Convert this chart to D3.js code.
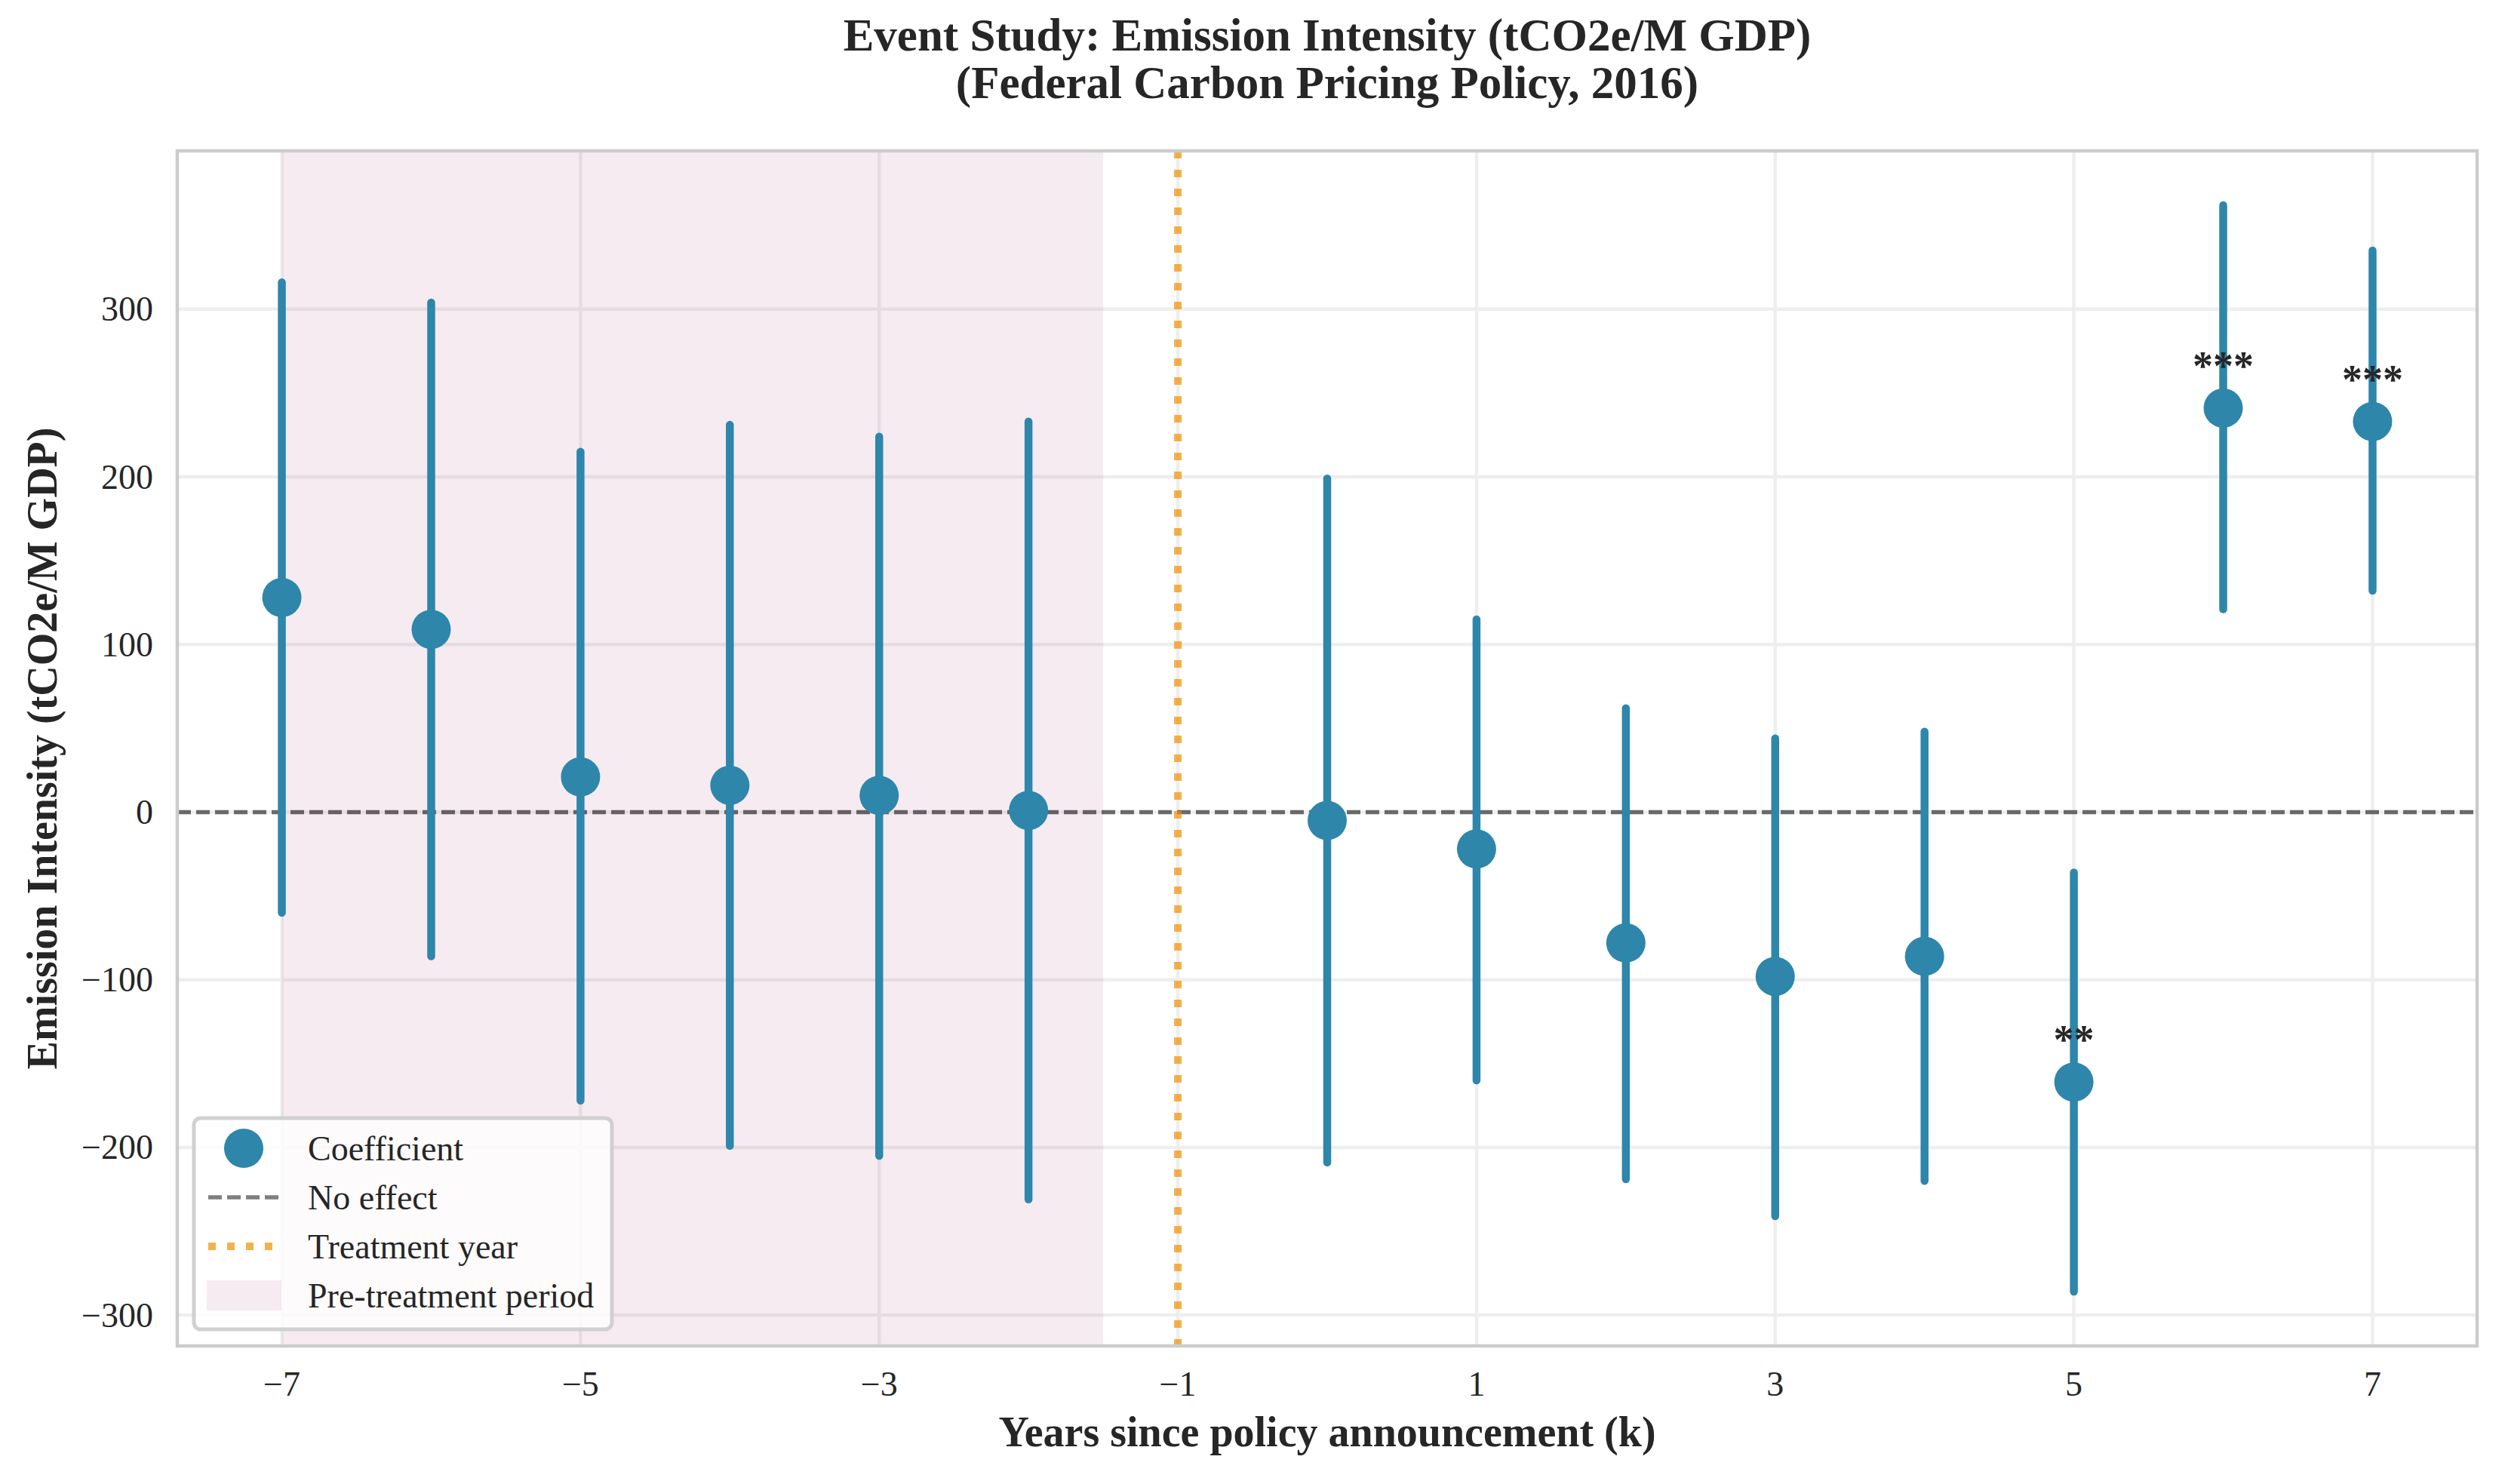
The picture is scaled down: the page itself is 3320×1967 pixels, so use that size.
<!DOCTYPE html>
<html>
<head>
<meta charset="utf-8">
<script src="https://cdn.jsdelivr.net/npm/d3@7"></script>
<style>
  html, body { margin: 0; padding: 0; background: #ffffff; }
  svg { display: block; }
  text { font-family: "Liberation Serif", "Times New Roman", serif; fill: #262626; }
</style>
</head>
<body>
<svg id="chart" width="3320" height="1967"></svg>
<script>
// ---- Data ----
const years     = [-7, -6, -5, -4, -3, -2, 0, 1, 2, 3, 4, 5, 6, 7];
const coef      = [128, 109, 21, 16, 10, 1, -5, -22, -78, -98, -86, -161, 241, 233];
const ciLower   = [-60, -86, -172, -199, -205, -231, -209, -160, -219, -241, -220, -286, 121, 132];
const ciUpper   = [316, 304, 215, 231, 224, 233, 199, 115, 62, 44, 48, -36, 362, 335];
const stars     = ["", "", "", "", "", "", "", "", "", "", "", "**", "***", "***"];
const xTicks    = [-7, -5, -3, -1, 1, 3, 5, 7];
const yTicks    = [-300, -200, -100, 0, 100, 200, 300];
const treatmentYear = -1;
const preStart = -7, preEnd = -1.5;
const titleLines = ["Event Study: Emission Intensity (tCO2e/M GDP)", "(Federal Carbon Pricing Policy, 2016)"];
const xLabel = "Years since policy announcement (k)";
const yLabel = "Emission Intensity (tCO2e/M GDP)";
const legendItems = ["Coefficient", "No effect", "Treatment year", "Pre-treatment period"];

// ---- Layout ----
const W = 3320, H = 1967;
const P = { left: 235, right: 3283, top: 200, bottom: 1784 };
const blue = "#2E86AB", orange = "#F18F01", purple = "#A23B72";

const svg = d3.select("#chart");

const xExt = d3.extent(years), xPad = (xExt[1] - xExt[0]) * 0.05;
const yMin = d3.min(ciLower), yMax = d3.max(ciUpper), yPad = (yMax - yMin) * 0.05;
const x = d3.scaleLinear().domain([xExt[0] - xPad, xExt[1] + xPad]).range([P.left, P.right]);
const y = d3.scaleLinear().domain([yMin - yPad, yMax + yPad]).range([P.bottom, P.top]);

const fmt = d => (d < 0 ? "\u2212" + Math.abs(d) : String(d));

svg.append("rect").attr("width", W).attr("height", H).attr("fill", "#ffffff");

// grid
const grid = svg.append("g");
grid.selectAll("line.gx").data(xTicks).join("line")
  .attr("x1", d => x(d)).attr("x2", d => x(d))
  .attr("y1", P.top).attr("y2", P.bottom)
  .attr("stroke", "#eeeeee").attr("stroke-width", 4.5);
grid.selectAll("line.gy").data(yTicks).join("line")
  .attr("x1", P.left).attr("x2", P.right)
  .attr("y1", d => y(d)).attr("y2", d => y(d))
  .attr("stroke", "#eeeeee").attr("stroke-width", 4.5);

// pre-treatment shading
svg.append("rect")
  .attr("x", x(preStart)).attr("width", x(preEnd) - x(preStart))
  .attr("y", P.top).attr("height", P.bottom - P.top)
  .attr("fill", purple).attr("fill-opacity", 0.1);

// zero line
svg.append("line")
  .attr("x1", P.left).attr("x2", P.right)
  .attr("y1", y(0)).attr("y2", y(0))
  .attr("stroke", "#000000").attr("stroke-opacity", 0.56)
  .attr("stroke-width", 5.5).attr("stroke-dasharray", "18 7");

// treatment line
svg.append("line")
  .attr("x1", x(treatmentYear)).attr("x2", x(treatmentYear))
  .attr("y1", P.top).attr("y2", P.bottom)
  .attr("stroke", orange).attr("stroke-opacity", 0.7)
  .attr("stroke-width", 10).attr("stroke-dasharray", "10 15");

// error bars
const pts = years.map((k, i) => ({ k, c: coef[i], lo: ciLower[i], hi: ciUpper[i], s: stars[i] }));
svg.append("g").selectAll("line").data(pts).join("line")
  .attr("x1", d => x(d.k)).attr("x2", d => x(d.k))
  .attr("y1", d => y(d.lo)).attr("y2", d => y(d.hi))
  .attr("stroke", blue).attr("stroke-width", 10.5).attr("stroke-linecap", "round");

// markers
svg.append("g").selectAll("circle").data(pts).join("circle")
  .attr("cx", d => x(d.k)).attr("cy", d => y(d.c)).attr("r", 26)
  .attr("fill", blue);

// significance stars
svg.append("g").selectAll("text").data(pts.filter(d => d.s)).join("text")
  .attr("x", d => x(d.k)).attr("y", d => y(d.c) - 38)
  .attr("text-anchor", "middle").attr("font-size", 54).attr("font-weight", "bold")
  .text(d => d.s);

// frame
svg.append("rect")
  .attr("x", P.left).attr("y", P.top)
  .attr("width", P.right - P.left).attr("height", P.bottom - P.top)
  .attr("fill", "none").attr("stroke", "#cccccc").attr("stroke-width", 4.5);

// tick labels
svg.append("g").selectAll("text").data(xTicks).join("text")
  .attr("x", d => x(d)).attr("y", 1850)
  .attr("text-anchor", "middle").attr("font-size", 46)
  .text(fmt);
svg.append("g").selectAll("text").data(yTicks).join("text")
  .attr("x", 203).attr("y", d => y(d))
  .attr("text-anchor", "end").attr("dominant-baseline", "central").attr("font-size", 46)
  .text(fmt);

// axis labels
svg.append("text")
  .attr("x", (P.left + P.right) / 2).attr("y", 1917)
  .attr("text-anchor", "middle").attr("font-size", 56).attr("font-weight", "bold")
  .text(xLabel);
svg.append("text")
  .attr("transform", `translate(75, ${(P.top + P.bottom) / 2}) rotate(-90)`)
  .attr("text-anchor", "middle").attr("font-size", 56).attr("font-weight", "bold")
  .text(yLabel);

// title
svg.append("g").selectAll("text").data(titleLines).join("text")
  .attr("x", (P.left + P.right) / 2).attr("y", (d, i) => 67 + i * 63)
  .attr("text-anchor", "middle").attr("font-size", 61).attr("font-weight", "bold")
  .text(d => d);

// legend
const lg = svg.append("g");
lg.append("rect")
  .attr("x", 257).attr("y", 1482).attr("width", 554).attr("height", 280)
  .attr("rx", 9).attr("ry", 9)
  .attr("fill", "#ffffff").attr("fill-opacity", 0.8)
  .attr("stroke", "#d0d0d0").attr("stroke-width", 5);
const rowY = i => 1522 + i * 65;
const hx0 = 276, hx1 = 370;
lg.append("circle").attr("cx", (hx0 + hx1) / 2).attr("cy", rowY(0)).attr("r", 26).attr("fill", blue);
lg.append("line").attr("x1", hx0).attr("x2", hx1).attr("y1", rowY(1)).attr("y2", rowY(1))
  .attr("stroke", "#000000").attr("stroke-opacity", 0.5).attr("stroke-width", 5.5).attr("stroke-dasharray", "18 7");
lg.append("line").attr("x1", hx0).attr("x2", hx1).attr("y1", rowY(2)).attr("y2", rowY(2))
  .attr("stroke", orange).attr("stroke-opacity", 0.7).attr("stroke-width", 10).attr("stroke-dasharray", "10 15");
lg.append("rect").attr("x", 274).attr("y", rowY(3) - 20).attr("width", 99).attr("height", 40)
  .attr("fill", purple).attr("fill-opacity", 0.1);
lg.selectAll("text").data(legendItems).join("text")
  .attr("x", 408).attr("y", (d, i) => rowY(i))
  .attr("dominant-baseline", "central").attr("font-size", 46)
  .text(d => d);
</script>
</body>
</html>
